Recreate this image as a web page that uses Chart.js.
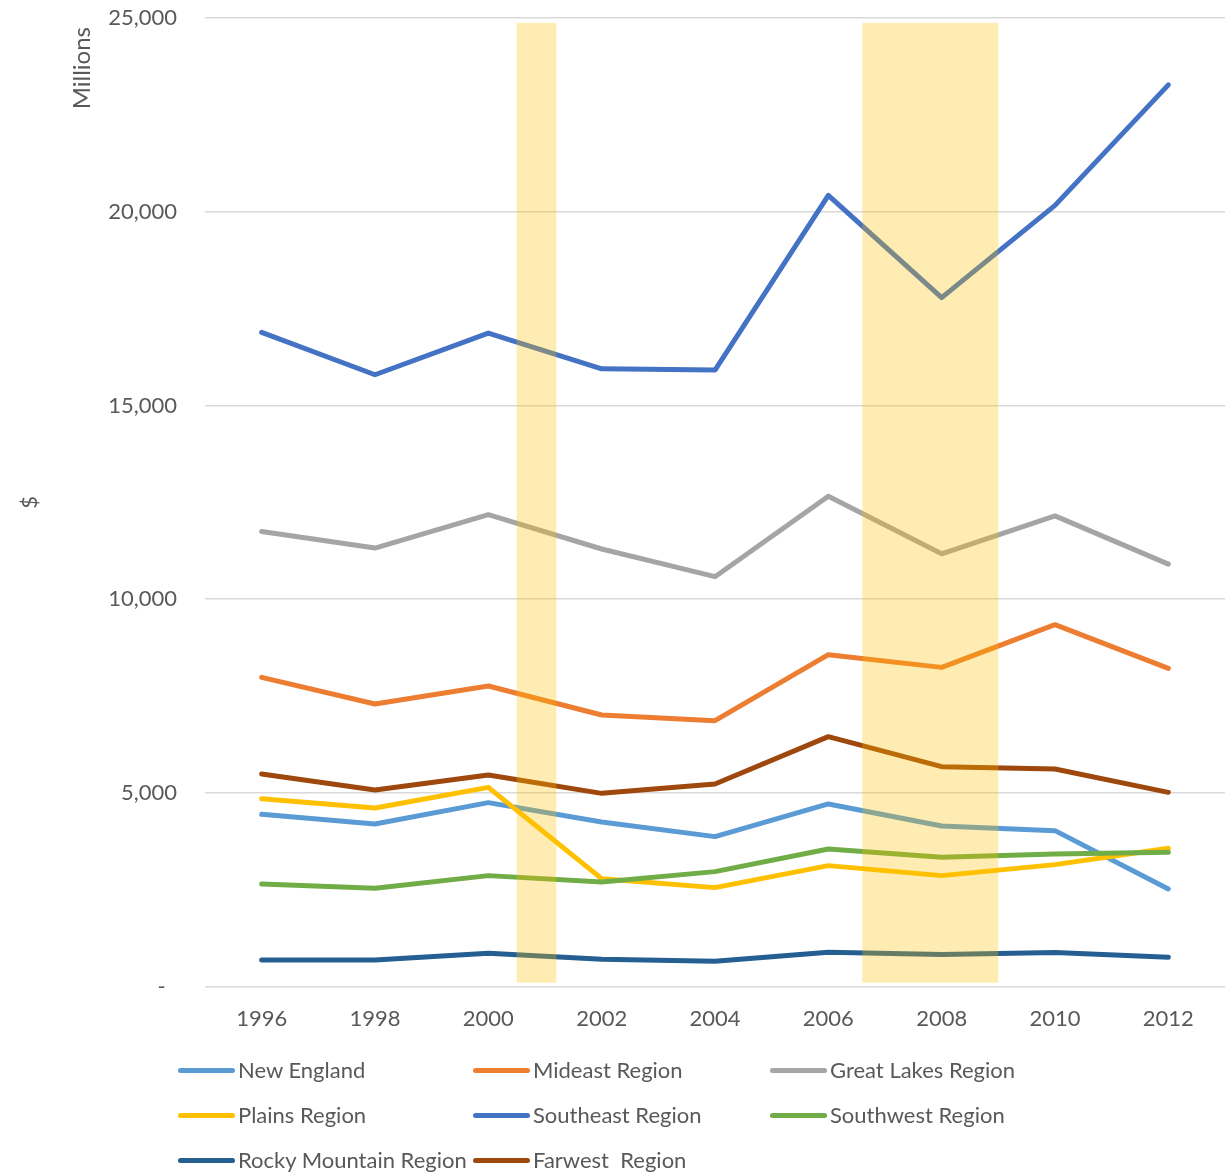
<!DOCTYPE html>
<html>
<head>
<meta charset="utf-8">
<script src="https://cdn.jsdelivr.net/npm/chart.js@4/dist/chart.umd.min.js"></script>
<style>
  html, body { margin: 0; padding: 0; background: #ffffff; overflow: hidden; }
  #wrap { position: relative; width: 1229px; height: 1175px; overflow: hidden; }
  #c { position: absolute; left: 0; top: -23px; }
  #legend { position: absolute; left: 0; top: 0; width: 1229px; height: 1175px; pointer-events: none;
            font-family: Lato, "Open Sans", sans-serif; font-size: 22px; color: #595959; }
  .li { position: absolute; height: 26px; line-height: 26px; white-space: pre; display: flex; align-items: center; }
  .sw { display: inline-block; width: 57px; height: 5px; border-radius: 3px; margin-right: 3px; }
</style>
</head>
<body>
<div id="wrap">
  <canvas id="c" width="1229" height="1086"></canvas>
  <div id="legend"></div>
</div>
<script>
// ---- data ----
const years = ['1996', '1998', '2000', '2002', '2004', '2006', '2008', '2010', '2012'];
const seriesNames = ['New England', 'Mideast Region', 'Great Lakes Region', 'Plains Region',
  'Southeast Region', 'Southwest Region', 'Rocky Mountain Region', 'Farwest  Region'];
const newEngland    = [4447, 4199, 4749, 4251, 3872, 4715, 4148, 4026, 2522];
const mideast       = [7983, 7296, 7761, 7012, 6865, 8569, 8241, 9343, 8216];
const greatLakes    = [11751, 11322, 12182, 11297, 10582, 12657, 11173, 12151, 10907];
const plains        = [4852, 4612, 5144, 2787, 2555, 3123, 2865, 3149, 3570];
const southeast     = [16888, 15796, 16871, 15950, 15917, 20426, 17785, 20168, 23278];
const southwest     = [2651, 2537, 2865, 2702, 2968, 3554, 3337, 3425, 3466];
const rockyMountain = [689, 689, 860, 705, 653, 885, 826, 878, 757];
const farwest       = [5490, 5077, 5464, 4989, 5232, 6453, 5678, 5619, 5015];
// shaded periods (start year, end year) and their value span
const recessionStart = [2000.5, 2006.6];
const recessionEnd   = [2001.2, 2009.0];
const shadeBottom = 100;
const shadeTop = 24880;
const yTicks = [0, 5000, 10000, 15000, 20000, 25000];

// ---- styles ----
const colors = ['#5B9BD5', '#ED7D31', '#A5A5A5', '#FFC000', '#4472C4', '#70AD47', '#255E91', '#9E480E'];
const allValues = [newEngland, mideast, greatLakes, plains, southeast, southwest, rockyMountain, farwest];
const FONT = 'Lato, "Open Sans", sans-serif';
const TEXT = '#595959';
const CANVAS_SHIFT = 23;

const datasets = seriesNames.map((name, i) => ({
  label: name,
  data: allValues[i],
  borderColor: colors[i],
  backgroundColor: colors[i],
  borderWidth: 5,
  pointRadius: 0,
  tension: 0,
  fill: false,
  borderCapStyle: 'round',
  borderJoinStyle: 'round',
  order: seriesNames.length - 1 - i
}));

const shadePlugin = {
  id: 'shade',
  afterDatasetsDraw(chart) {
    const x = chart.scales.x, y = chart.scales.y, ctx = chart.ctx;
    const y0 = Number(years[0]);
    const step = Number(years[1]) - y0;
    ctx.save();
    ctx.fillStyle = 'rgba(255,192,0,0.3)';
    for (let k = 0; k < recessionStart.length; k++) {
      const xa = x.getPixelForValue((recessionStart[k] - y0) / step);
      const xb = x.getPixelForValue((recessionEnd[k] - y0) / step);
      const ya = y.getPixelForValue(shadeTop);
      const yb = y.getPixelForValue(shadeBottom);
      ctx.fillRect(xa, ya, xb - xa, yb - ya);
    }
    ctx.restore();
  }
};

const millionsPlugin = {
  id: 'millions',
  afterDraw(chart) {
    const ctx = chart.ctx;
    ctx.save();
    ctx.translate(82, 27 + CANVAS_SHIFT);
    ctx.rotate(-Math.PI / 2);
    ctx.font = '24px ' + FONT;
    ctx.fillStyle = TEXT;
    ctx.textAlign = 'right';
    ctx.textBaseline = 'middle';
    ctx.fillText('Millions', 0, 0);
    ctx.restore();
  }
};

new Chart(document.getElementById('c'), {
  type: 'line',
  data: { labels: years, datasets },
  plugins: [shadePlugin, millionsPlugin],
  options: {
    responsive: false,
    animation: false,
    devicePixelRatio: 1,
    layout: { padding: { top: 17, right: 4, left: 0, bottom: 12 } },
    plugins: { legend: { display: false }, tooltip: { enabled: false } },
    scales: {
      x: {
        offset: true,
        grid: { display: false, drawTicks: false },
        border: { display: false },
        ticks: { color: TEXT, font: { family: FONT, size: 22 }, padding: 19, maxRotation: 0 }
      },
      y: {
        min: yTicks[0],
        max: yTicks[yTicks.length - 1],
        afterBuildTicks(scale) { scale.ticks = yTicks.map(v => ({ value: v })); },
        afterFit(scale) { scale.width = 205; },
        grid: { color: '#d9d9d9', lineWidth: 1.5, drawTicks: false },
        border: { display: false },
        ticks: {
          color: TEXT, font: { family: FONT, size: 22 }, padding: 28,
          callback: (v) => v === 0 ? '-  ' : v.toLocaleString('en-US')
        },
        title: { display: true, text: '$', color: TEXT, font: { family: FONT, size: 22 }, padding: { top: 17, bottom: 0 } }
      }
    }
  }
});

// ---- HTML legend ----
const legendCols = [178, 473, 770];
const legendRows = [1070, 1115, 1160];
const legendEl = document.getElementById('legend');
seriesNames.forEach((name, i) => {
  const item = document.createElement('div');
  item.className = 'li';
  item.style.left = legendCols[i % 3] + 'px';
  item.style.top = (legendRows[Math.floor(i / 3)] - 13) + 'px';
  const sw = document.createElement('span');
  sw.className = 'sw';
  sw.style.background = colors[i];
  const tx = document.createElement('span');
  tx.textContent = name;
  item.appendChild(sw);
  item.appendChild(tx);
  legendEl.appendChild(item);
});
</script>
</body>
</html>
